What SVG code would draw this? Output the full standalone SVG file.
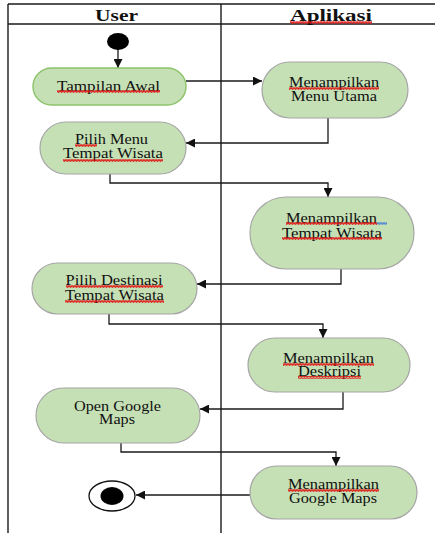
<svg xmlns="http://www.w3.org/2000/svg" width="435" height="533" viewBox="0 0 435 533">
<style>
.frame{stroke:#1a1a1a;stroke-width:1.4;fill:none}
.hdr{font-weight:bold;font-size:16px;fill:#111;text-anchor:middle}
.lbl{font-size:14px;fill:#111;text-anchor:middle}
.act{fill:#c5e0b4;stroke:#a6a6a6;stroke-width:1.2}
.act-g{fill:#c5e0b4;stroke:#8cc36a;stroke-width:1.4}
.con{fill:none;stroke:#1a1a1a;stroke-width:1.3;marker-end:url(#arr)}
.sq{fill:url(#red)}
.sqb{fill:url(#blue)}
</style>
<defs>
<marker id="arr" markerUnits="userSpaceOnUse" markerWidth="9" markerHeight="9" refX="9" refY="4.5" orient="auto">
<path d="M0,0 L9,4.5 L0,9 z" fill="#111"/>
</marker>
<pattern id="red" width="3" height="3" patternUnits="userSpaceOnUse">
<path d="M0,2.6 L0.75,0.4 L1.5,2.6 L2.25,0.4 L3,2.6" fill="none" stroke="#e01010" stroke-width="0.9"/>
</pattern>
<pattern id="blue" width="3" height="3" patternUnits="userSpaceOnUse">
<path d="M0,2.6 L0.75,0.4 L1.5,2.6 L2.25,0.4 L3,2.6" fill="none" stroke="#4a7fd4" stroke-width="0.9"/>
</pattern>
</defs>

<g id="swimlanes" font-family="Liberation Serif, Times New Roman, serif">
<line class="frame" x1="8" y1="4" x2="435" y2="4"/>
<line class="frame" x1="8" y1="24" x2="435" y2="24"/>
<line class="frame" x1="8" y1="4" x2="8" y2="533"/>
<line class="frame" x1="221" y1="4" x2="221" y2="533"/>
<text class="hdr" x="116.5" y="21" textLength="43" lengthAdjust="spacingAndGlyphs">User</text>
<text class="hdr" x="331" y="21" textLength="82" lengthAdjust="spacingAndGlyphs">Aplikasi</text>
</g>

<g id="connectors">
<path class="con" d="M118,49 V68"/>
<path class="con" d="M186,81 H262"/>
<path class="con" d="M328,118 V143 H186"/>
<path class="con" d="M110,174 V183 H328 V197"/>
<path class="con" d="M341,269 V284 H197"/>
<path class="con" d="M109,314 V324 H323 V338"/>
<path class="con" d="M343,392 V409 H200"/>
<path class="con" d="M121,443 V452 H336 V466"/>
<path class="con" d="M250,495 H136"/>
</g>

<g id="start">
<ellipse cx="118" cy="41.5" rx="11" ry="8.5" fill="#000"/>
</g>

<g id="nodes" font-family="Liberation Serif, Times New Roman, serif">
<g id="tampilan-awal">
<rect class="act-g" x="33" y="68" width="153" height="37" rx="18.5"/>
<text class="lbl" x="108.5" y="90.5" textLength="103" lengthAdjust="spacingAndGlyphs">Tampilan Awal</text>
</g>

<g id="menampilkan-menu-utama">
<rect class="act" x="262" y="62" width="146" height="56" rx="28"/>
<text class="lbl" x="334" y="87" textLength="90" lengthAdjust="spacingAndGlyphs">Menampilkan</text>
<text class="lbl" x="334" y="101" textLength="86" lengthAdjust="spacingAndGlyphs">Menu Utama</text>
</g>

<g id="pilih-menu-tempat-wisata">
<rect class="act" x="40" y="122" width="146" height="52" rx="26"/>
<text class="lbl" x="111.5" y="144" textLength="73" lengthAdjust="spacingAndGlyphs">Pilih Menu</text>
<text class="lbl" x="113" y="158" textLength="100" lengthAdjust="spacingAndGlyphs">Tempat Wisata</text>
</g>

<g id="menampilkan-tempat-wisata">
<rect class="act" x="250" y="197" width="164" height="72" rx="36"/>
<text class="lbl" x="331.5" y="222.5" textLength="91" lengthAdjust="spacingAndGlyphs">Menampilkan</text>
<text class="lbl" x="332" y="237.5" textLength="100" lengthAdjust="spacingAndGlyphs">Tempat Wisata</text>
</g>

<g id="pilih-destinasi">
<rect class="act" x="32" y="263" width="165" height="51" rx="25.5"/>
<text class="lbl" x="114" y="285" textLength="97" lengthAdjust="spacingAndGlyphs">Pilih Destinasi</text>
<text class="lbl" x="114.5" y="300" textLength="99" lengthAdjust="spacingAndGlyphs">Tempat Wisata</text>
</g>

<g id="menampilkan-deskripsi">
<rect class="act" x="248" y="338" width="162" height="54" rx="27"/>
<text class="lbl" x="328.5" y="362.5" textLength="91" lengthAdjust="spacingAndGlyphs">Menampilkan</text>
<text class="lbl" x="329.5" y="376" textLength="63" lengthAdjust="spacingAndGlyphs">Deskripsi</text>
</g>

<g id="open-google-maps">
<rect class="act" x="36" y="388" width="164" height="55" rx="27.5"/>
<text class="lbl" x="117.5" y="410.5" textLength="87" lengthAdjust="spacingAndGlyphs">Open Google</text>
<text class="lbl" x="117" y="424" textLength="36" lengthAdjust="spacingAndGlyphs">Maps</text>
</g>

<g id="menampilkan-google-maps">
<rect class="act" x="250" y="466" width="167" height="53" rx="26.5"/>
<text class="lbl" x="333.5" y="489" textLength="91" lengthAdjust="spacingAndGlyphs">Menampilkan</text>
<text class="lbl" x="333" y="503" textLength="88" lengthAdjust="spacingAndGlyphs">Google Maps</text>
</g>
</g>

<g id="end">
<ellipse cx="112" cy="496" rx="23" ry="15" fill="#fff" stroke="#111" stroke-width="1.3"/>
<ellipse cx="112" cy="496" rx="11.5" ry="9" fill="#000"/>
</g>

<g id="spellcheck-marks">
<rect class="sq" x="290" y="21" width="82" height="3"/>
<rect class="sq" x="57" y="90" width="103" height="3"/>
<rect class="sq" x="289" y="87" width="90" height="3"/>
<rect class="sq" x="75" y="144" width="22" height="3"/>
<rect class="sq" x="63" y="159" width="100" height="3"/>
<rect class="sq" x="286" y="222" width="91" height="3"/>
<rect class="sqb" x="377" y="222" width="10" height="3"/>
<rect class="sq" x="282" y="237" width="100" height="3"/>
<rect class="sq" x="66" y="285" width="97" height="3"/>
<rect class="sq" x="65" y="300" width="99" height="3"/>
<rect class="sq" x="283" y="363" width="91" height="3"/>
<rect class="sq" x="298" y="376" width="63" height="3"/>
<rect class="sq" x="288" y="489" width="91" height="3"/>
</g>
</svg>
